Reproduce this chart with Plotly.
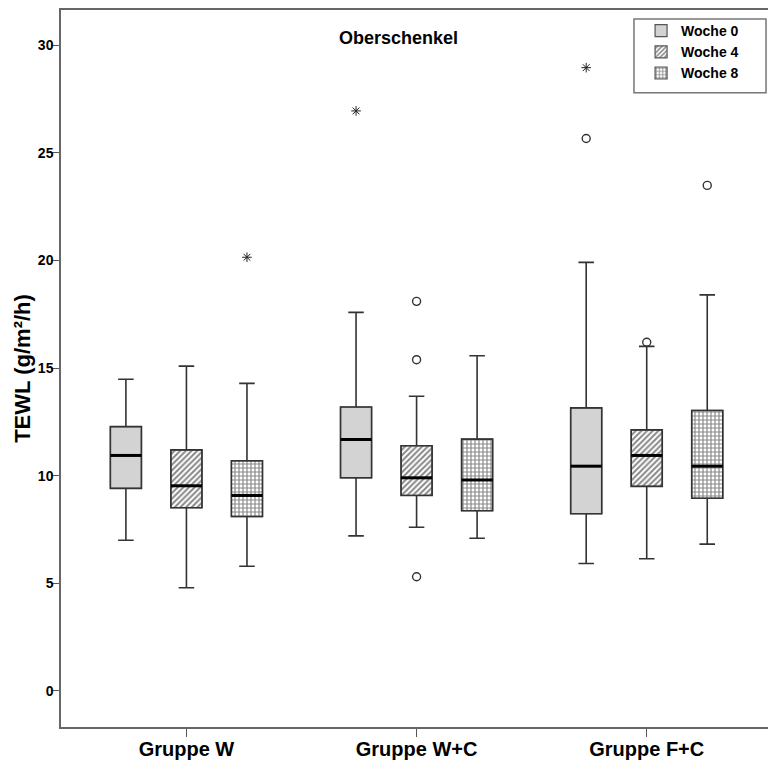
import plotly.graph_objects as go

groups = ["Gruppe W", "Gruppe W+C", "Gruppe F+C"]
weeks = ["Woche 0", "Woche 4", "Woche 8"]

# per week: values for the three groups
lower = {"Woche 0": [7.00, 7.20, 5.92], "Woche 4": [4.79, 7.60, 6.14], "Woche 8": [5.79, 7.09, 6.82]}
q1 = {"Woche 0": [9.41, 9.90, 8.23], "Woche 4": [8.51, 9.08, 9.50], "Woche 8": [8.10, 8.37, 8.95]}
median = {"Woche 0": [10.94, 11.68, 10.44], "Woche 4": [9.53, 9.90, 10.94], "Woche 8": [9.08, 9.80, 10.44]}
q3 = {"Woche 0": [12.28, 13.19, 13.15], "Woche 4": [11.20, 11.39, 12.13], "Woche 8": [10.69, 11.70, 13.03]}
upper = {"Woche 0": [14.48, 17.59, 19.91], "Woche 4": [15.09, 13.69, 16.01], "Woche 8": [14.29, 15.57, 18.40]}

# outliers (circles) and extremes (stars): (group index, week, value)
outliers = [(1, "Woche 4", 18.10), (1, "Woche 4", 15.39), (1, "Woche 4", 5.30),
            (2, "Woche 0", 25.67), (2, "Woche 4", 16.20), (2, "Woche 8", 23.49)]
extremes = [(0, "Woche 8", 20.15), (1, "Woche 0", 26.95), (2, "Woche 0", 28.96)]

y_ticks = [0, 5, 10, 15, 20, 25, 30]

# styles
OFFSET = {"Woche 0": -0.263, "Woche 4": 0.0, "Woche 8": 0.263}
BOXW = 0.135
FONT = "Liberation Sans"
styles = {
    "Woche 0": dict(shape="", fg="#d3d3d3", bg="#d3d3d3", sol=0.3),
    "Woche 4": dict(shape="/", fg="#111111", bg="white", sol=0.5),
    "Woche 8": dict(shape="+", fg="#111111", bg="white", sol=0.5),
}

fig = go.Figure()

def pos(gi, wk):
    return gi + OFFSET[wk]

# pattern-filled box bodies (bars)
for wk in weeks:
    st = styles[wk]
    xs = [pos(gi, wk) for gi in range(len(groups))]
    fig.add_trace(go.Bar(
        x=xs, y=[b - a for a, b in zip(q1[wk], q3[wk])], base=q1[wk], width=BOXW,
        name=wk, showlegend=True,
        marker=dict(color=st["bg"], line=dict(color="#555555", width=1.2),
                    pattern=dict(shape=st["shape"], fgcolor=st["fg"], bgcolor=st["bg"],
                                 size=4, solidity=st["sol"])),
        hoverinfo="skip",
    ))

# box outlines & whiskers
for wk in weeks:
    for gi in range(len(groups)):
        fig.add_trace(go.Box(
            x=[pos(gi, wk)], q1=[q1[wk][gi]], median=[median[wk][gi]], q3=[q3[wk][gi]],
            lowerfence=[lower[wk][gi]], upperfence=[upper[wk][gi]],
            width=BOXW, whiskerwidth=0.5, boxpoints=False,
            fillcolor="rgba(0,0,0,0)", line=dict(color="#333333", width=1.6),
            showlegend=False, hoverinfo="skip",
        ))

# thick median lines
mx, my = [], []
for wk in weeks:
    for gi in range(len(groups)):
        p = pos(gi, wk)
        mx += [p - BOXW / 2, p + BOXW / 2, None]
        my += [median[wk][gi], median[wk][gi], None]
fig.add_trace(go.Scatter(x=mx, y=my, mode="lines", line=dict(color="black", width=3),
                         showlegend=False, hoverinfo="skip"))

fig.add_trace(go.Scatter(
    x=[pos(g, w) for g, w, v in outliers], y=[v for g, w, v in outliers], mode="markers",
    marker=dict(symbol="circle-open", size=8, color="#333333", line=dict(width=1.4)),
    showlegend=False, hoverinfo="skip"))
fig.add_trace(go.Scatter(
    x=[pos(g, w) for g, w, v in extremes], y=[v for g, w, v in extremes], mode="markers",
    marker=dict(symbol="asterisk-open", size=8, color="#222222", line=dict(width=1)),
    showlegend=False, hoverinfo="skip"))

fig.update_layout(
    width=768, height=757,
    margin=dict(l=53, r=5, t=0, b=38),
    paper_bgcolor="white", plot_bgcolor="white",
    barmode="overlay",
    font=dict(family=FONT, color="black"),
    showlegend=True,
    legend=dict(x=0.817, y=0.993, xanchor="left", yanchor="top",
                bgcolor="rgba(0,0,0,0)", borderwidth=0,
                font=dict(size=14, weight="bold", family=FONT),
                tracegroupgap=0, itemwidth=30),
    xaxis=dict(range=[-0.545, 2.54], tickmode="array", tickvals=list(range(len(groups))),
               ticktext=groups, ticks="outside", ticklen=8, tickcolor="#555555",
               showline=True, mirror=True, linecolor="#666666", linewidth=1.5,
               showgrid=False, zeroline=False, ticklabelstandoff=-5,
               tickfont=dict(size=20, weight="bold", family=FONT)),
    yaxis=dict(range=[-1.68, 31.64], tickmode="array", tickvals=y_ticks,
               ticks="outside", ticklen=8, tickcolor="#555555",
               showline=True, mirror=True, linecolor="#666666", linewidth=1.5,
               showgrid=False, zeroline=False, ticklabelstandoff=-5,
               tickfont=dict(size=14, weight="bold", family=FONT),
               title=dict(text="TEWL (g/m²/h)", standoff=1,
                          font=dict(size=22, weight="bold", family=FONT))),
    annotations=[dict(text="Oberschenkel", x=0.475, y=0.961, xref="paper", yref="paper",
                      xanchor="center", yanchor="middle",
                      showarrow=False, font=dict(size=18, weight="bold", family=FONT))],
    shapes=[dict(type="rect", xref="paper", yref="paper", x0=0.807, x1=0.993,
                 y0=0.8846, y1=0.9875, line=dict(color="#777777", width=1.5))],
)

fig.write_html("out.html")
